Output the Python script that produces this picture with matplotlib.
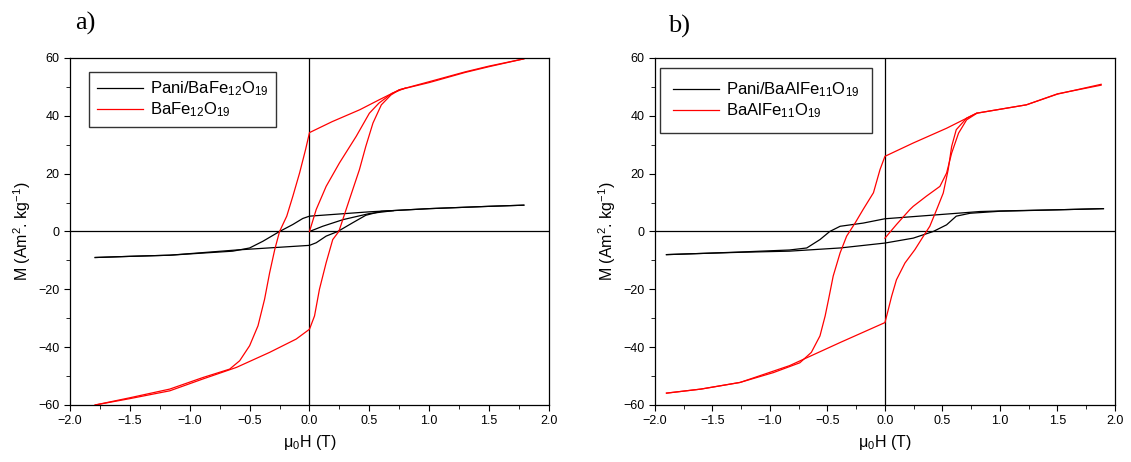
import numpy as np
import matplotlib
matplotlib.use("Agg")
import matplotlib.pyplot as plt
from matplotlib.ticker import MultipleLocator

plt.rcParams['font.family'] = ['Liberation Sans', 'DejaVu Sans']
plt.rcParams['mathtext.fontset'] = 'custom'
plt.rcParams['mathtext.rm'] = 'Liberation Sans'
plt.rcParams['mathtext.it'] = 'Liberation Sans'

# ---- panel a) BaFe12O19 (red) and Pani/BaFe12O19 (black) ----
a_red_virgin_H = [0.0, 0.056, 0.139, 0.25, 0.39, 0.5, 0.58, 0.69, 0.8]
a_red_virgin_M = [0.0, 7.6, 15.6, 23.7, 32.9, 40.9, 44.4, 47.8, 49.6]
a_red_desc_H = [1.79, 1.5, 1.3, 1.0, 0.75, 0.58, 0.42, 0.19, 0.0, -0.033, -0.083, -0.139, -0.19,
                -0.25, -0.29, -0.333, -0.375, -0.43, -0.5, -0.583, -0.667, -0.89, -1.167, -1.5, -1.79]
a_red_desc_M = [59.7, 57.0, 55.0, 51.5, 49.0, 45.5, 42.1, 38.0, 34.2, 28.3, 20.2, 12.2, 5.3,
                0.0, -6.2, -14.3, -23.4, -32.6, -39.5, -44.7, -47.6, -50.5, -54.5, -57.5, -60.0]
a_red_asc_H = [-1.79, -1.5, -1.167, -0.89, -0.61, -0.333, -0.111, 0.0, 0.042, 0.083, 0.139, 0.194,
               0.245, 0.333, 0.417, 0.47, 0.53, 0.6, 0.68, 0.75, 1.0, 1.3, 1.5, 1.79]
a_red_asc_M = [-60.0, -57.8, -55.1, -51.0, -47.0, -41.8, -37.2, -33.8, -29.2, -20.0, -10.8, -2.8,
               0.0, 11.0, 21.4, 29.4, 37.5, 43.8, 47.2, 49.0, 51.8, 55.2, 57.2, 59.7]

a_blk_virgin_H = [0.0, 0.11, 0.28, 0.5, 0.7]
a_blk_virgin_M = [0.0, 1.8, 4.1, 6.2, 7.2]
a_blk_desc_H = [1.79, 1.5, 1.0, 0.5, 0.0, -0.056, -0.14, -0.25, -0.39, -0.5, -0.64, -1.167, -1.5, -1.79]
a_blk_desc_M = [9.1, 8.7, 7.9, 6.8, 5.3, 4.5, 2.4, 0.0, -3.4, -5.7, -6.8, -8.2, -8.6, -9.0]
a_blk_asc_H = [-1.79, -1.5, -1.167, -0.61, 0.0, 0.056, 0.139, 0.236, 0.36, 0.47, 0.6, 1.0, 1.5, 1.79]
a_blk_asc_M = [-9.0, -8.6, -8.2, -6.4, -4.8, -3.9, -1.6, 0.0, 3.0, 5.6, 7.0, 7.9, 8.7, 9.1]

# ---- panel b) BaAlFe11O19 (red) and Pani/BaAlFe11O19 (black) ----
b_red_virgin_H = [0.0, 0.10, 0.217, 0.246, 0.36, 0.478, 0.536, 0.58, 0.64, 0.71, 0.8]
b_red_virgin_M = [-2.3, 2.4, 7.6, 8.7, 12.2, 15.6, 20.2, 27.1, 34.0, 38.6, 40.9]
b_red_desc_H = [1.88, 1.5, 1.23, 0.797, 0.536, 0.246, 0.0, -0.043, -0.10, -0.19, -0.26, -0.333,
                -0.39, -0.45, -0.49, -0.52, -0.565, -0.64, -0.74, -0.97, -1.26, -1.6, -1.9]
b_red_desc_M = [50.9, 47.5, 43.8, 40.9, 35.7, 30.6, 26.0, 21.4, 13.4, 7.6, 2.9, -1.6,
                -7.4, -15.4, -23.4, -29.2, -36.1, -41.8, -45.4, -48.8, -52.2, -54.5, -55.9]
b_red_asc_H = [-1.9, -1.6, -1.26, -0.83, -0.39, 0.0, 0.029, 0.058, 0.10, 0.174, 0.26, 0.333, 0.39,
               0.45, 0.507, 0.55, 0.58, 0.62, 0.71, 0.797, 1.23, 1.5, 1.88]
b_red_asc_M = [-55.9, -54.5, -52.2, -46.4, -38.4, -31.5, -27.0, -22.4, -16.7, -10.9, -6.3, -1.7, 1.8,
               7.6, 13.3, 21.4, 29.4, 35.2, 39.2, 40.9, 43.8, 47.6, 50.6]

b_blk_desc_H = [1.9, 1.5, 1.0, 0.826, 0.0, -0.19, -0.39, -0.48, -0.565, -0.68, -0.83, -1.26, -1.6, -1.9]
b_blk_desc_M = [7.9, 7.5, 7.1, 6.9, 4.4, 2.9, 1.8, 0.0, -2.8, -5.7, -6.4, -7.1, -7.6, -8.0]
b_blk_asc_H = [-1.9, -1.6, -1.26, -0.83, -0.39, 0.0, 0.246, 0.42, 0.536, 0.62, 0.74, 1.0, 1.5, 1.9]
b_blk_asc_M = [-8.0, -7.6, -7.2, -6.8, -5.7, -4.0, -2.3, 0.0, 2.3, 5.3, 6.3, 7.0, 7.5, 7.9]

fig = plt.figure(figsize=(11.31, 4.62), dpi=100)
ax1 = fig.add_axes([0.0619, 0.1234, 0.4235, 0.7511])
ax2 = fig.add_axes([0.5791, 0.1234, 0.4067, 0.7511])

lw = 0.9


def style(ax, xlim, ylim):
    ax.set_xlim(*xlim)
    ax.set_ylim(*ylim)
    ax.axhline(0, color='black', lw=0.9, zorder=1)
    ax.axvline(0, color='black', lw=0.9, zorder=1)
    ax.xaxis.set_major_locator(MultipleLocator(0.5))
    ax.xaxis.set_minor_locator(MultipleLocator(0.25))
    ax.yaxis.set_major_locator(MultipleLocator(20))
    ax.yaxis.set_minor_locator(MultipleLocator(10))
    ax.tick_params(which='both', direction='out', top=False, right=False, labelsize=9)
    ax.tick_params(which='major', length=4)
    ax.tick_params(which='minor', length=3)
    for s in ax.spines.values():
        s.set_linewidth(0.9)
    ax.set_xlabel(r'$\mathrm{\mu_0}$H (T)', fontsize=11.5)
    ax.set_ylabel(r'M (Am$^{2}$. kg$^{-1}$)', fontsize=11.5)


leg_kw = dict(loc='upper left', fontsize=12, frameon=True, fancybox=False,
              edgecolor='black', handlelength=2.8, handletextpad=0.4,
              labelspacing=0.15, borderaxespad=0)

# panel a
ax1.plot(a_blk_desc_H, a_blk_desc_M, color='black', lw=lw, label=r'Pani/BaFe$_{12}$O$_{19}$')
ax1.plot(a_blk_asc_H, a_blk_asc_M, color='black', lw=lw)
ax1.plot(a_blk_virgin_H, a_blk_virgin_M, color='black', lw=lw)
ax1.plot(a_red_desc_H, a_red_desc_M, color='red', lw=lw, label=r'BaFe$_{12}$O$_{19}$')
ax1.plot(a_red_asc_H, a_red_asc_M, color='red', lw=lw)
ax1.plot(a_red_virgin_H, a_red_virgin_M, color='red', lw=lw)
style(ax1, (-2.0, 2.0), (-60, 60))
ax1.legend(bbox_to_anchor=(0.04, 0.96), borderpad=0.45, **leg_kw)
fig.text(0.066, 0.935, 'a)', family='Liberation Serif', fontsize=19)

# panel b
ax2.plot(b_blk_desc_H, b_blk_desc_M, color='black', lw=lw, label=r'Pani/BaAlFe$_{11}$O$_{19}$')
ax2.plot(b_blk_asc_H, b_blk_asc_M, color='black', lw=lw)
ax2.plot(b_red_desc_H, b_red_desc_M, color='red', lw=lw, label=r'BaAlFe$_{11}$O$_{19}$')
ax2.plot(b_red_asc_H, b_red_asc_M, color='red', lw=lw)
ax2.plot(b_red_virgin_H, b_red_virgin_M, color='red', lw=lw)
style(ax2, (-2.0, 2.0), (-60, 60))
ax2.legend(bbox_to_anchor=(0.011, 0.971), borderpad=0.75, **leg_kw)
fig.text(0.591, 0.93, 'b)', family='Liberation Serif', fontsize=19)

fig.savefig('out.png', dpi=100)
